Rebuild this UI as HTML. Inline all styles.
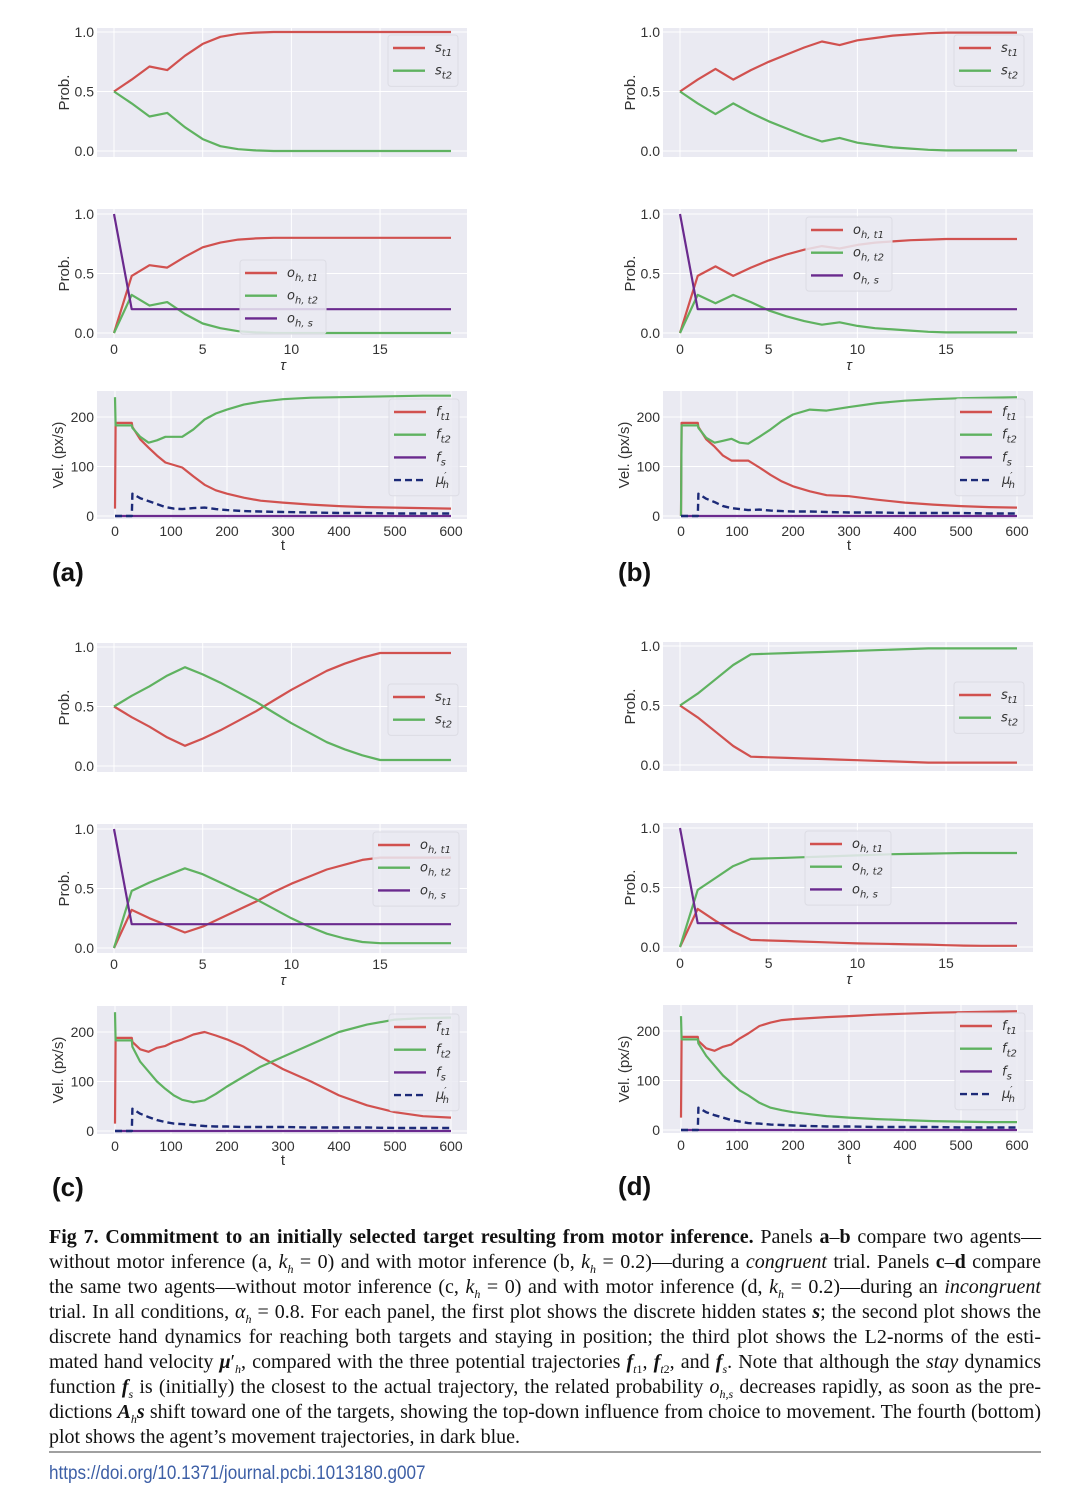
<!DOCTYPE html>
<html><head><meta charset="utf-8"><style>
html,body{margin:0;padding:0;background:#fff;width:1080px;height:1507px;overflow:hidden;position:relative}
.cap{position:absolute;left:49px;width:992px;font-family:"Liberation Serif",serif;font-size:20px;line-height:25px;color:#111;text-align:justify;text-align-last:justify;white-space:nowrap}
.cap.last{text-align-last:left}
</style></head><body>
<svg id="fig" width="1080" height="1507" viewBox="0 0 1080 1507" style="position:absolute;left:0;top:0" font-family="Liberation Sans, DejaVu Sans, sans-serif"></svg>

<div class="cap" style="top:1225px"><b>Fig 7. Commitment to an initially selected target resulting from motor inference.</b> Panels <b>a</b>–<b>b</b> compare two agents—</div>
<div class="cap" style="top:1250px">without motor inference (a, <i>k<sub style="font-size:12px">h</sub></i> = 0) and with motor inference (b, <i>k<sub style="font-size:12px">h</sub></i> = 0.2)—during a <i>congruent</i> trial. Panels <b>c</b>–<b>d</b> compare</div>
<div class="cap" style="top:1275px">the same two agents—without motor inference (c, <i>k<sub style="font-size:12px">h</sub></i> = 0) and with motor inference (d, <i>k<sub style="font-size:12px">h</sub></i> = 0.2)—during an <i>incongruent</i></div>
<div class="cap" style="top:1300px">trial. In all conditions, <i>α<sub style="font-size:12px">h</sub></i> = 0.8. For each panel, the first plot shows the discrete hidden states <b><i>s</i></b>; the second plot shows the</div>
<div class="cap" style="top:1325px">discrete hand dynamics for reaching both targets and staying in position; the third plot shows the L2-norms of the esti-</div>
<div class="cap" style="top:1350px">mated hand velocity <b><i>μ</i></b>′<sub style="font-size:12px"><i>h</i></sub>, compared with the three potential trajectories <b><i>f</i></b><sub style="font-size:12px"><i>t</i>1</sub>, <b><i>f</i></b><sub style="font-size:12px"><i>t</i>2</sub>, and <b><i>f</i></b><sub style="font-size:12px"><i>s</i></sub>. Note that although the <i>stay</i> dynamics</div>
<div class="cap" style="top:1375px">function <b><i>f</i></b><sub style="font-size:12px"><i>s</i></sub> is (initially) the closest to the actual trajectory, the related probability <i>o</i><sub style="font-size:12px"><i>h,s</i></sub> decreases rapidly, as soon as the pre-</div>
<div class="cap" style="top:1400px">dictions <b><i>A</i></b><sub style="font-size:12px"><i>h</i></sub><b><i>s</i></b> shift toward one of the targets, showing the top-down influence from choice to movement. The fourth (bottom)</div>
<div class="cap last" style="top:1425px">plot shows the agent’s movement trajectories, in dark blue.</div>
<div style="position:absolute;left:49px;top:1451px;width:992px;height:2px;background:#a0a0a0"></div>
<div style="position:absolute;left:49px;top:1463px;font-family:'Liberation Sans',sans-serif;font-size:19px;color:#3d5fa6;transform:scaleX(0.9);transform-origin:left">https://doi.org/10.1371/journal.pcbi.1013180.g007</div>

<script>
// ---- data ----
const tau = [0,1,2,3,4,5,6,7,8,9,10,11,12,13,14,15,16,17,18,19];
const tauTicks = [0,5,10,15];
const probTicks = [0,0.5,1];
const probTickLabels = ["0.0","0.5","1.0"];
const tVel = [0,1,30,31,45,60,75,90,105,120,140,160,180,200,230,260,300,350,400,450,500,550,600];
const tTicks = [0,100,200,300,400,500,600];
const velTicks = [0,100,200];

const aSt1 = [0.5,0.6,0.71,0.68,0.8,0.9,0.96,0.985,0.995,1,1,1,1,1,1,1,1,1,1,1];
const aSt2 = [0.5,0.4,0.29,0.32,0.2,0.1,0.04,0.015,0.005,0,0,0,0,0,0,0,0,0,0,0];
const aOt1 = [0,0.48,0.57,0.55,0.64,0.72,0.76,0.785,0.795,0.8,0.8,0.8,0.8,0.8,0.8,0.8,0.8,0.8,0.8,0.8];
const aOt2 = [0,0.32,0.23,0.26,0.16,0.08,0.04,0.015,0.005,0,0,0,0,0,0,0,0,0,0,0];
const aOs  = [1,0.2,0.2,0.2,0.2,0.2,0.2,0.2,0.2,0.2,0.2,0.2,0.2,0.2,0.2,0.2,0.2,0.2,0.2,0.2];
const aFt1 = [15,188,188,180,155,138,122,108,103,98,80,63,52,45,37,31,27,23,20,18,17,16,15];
const aFt2 = [240,183,183,178,160,148,153,160,160,160,175,195,207,215,225,231,236,239,240,241,242,243,243];
const aMu  = [0,0,0,45,36,30,24,18,15,14,16,17,14,12,10,9,8,7,6,6,5,5,5];

const bSt1 = [0.5,0.6,0.69,0.6,0.68,0.75,0.81,0.87,0.92,0.89,0.93,0.95,0.97,0.98,0.99,0.995,0.995,0.995,0.995,0.995];
const bSt2 = [0.5,0.4,0.31,0.4,0.32,0.25,0.19,0.13,0.08,0.11,0.07,0.05,0.03,0.02,0.01,0.005,0.005,0.005,0.005,0.005];
const bOt1 = [0,0.48,0.56,0.48,0.55,0.61,0.66,0.7,0.73,0.71,0.74,0.76,0.77,0.78,0.785,0.79,0.79,0.79,0.79,0.79];
const bOt2 = [0,0.32,0.25,0.32,0.26,0.19,0.14,0.1,0.07,0.09,0.06,0.04,0.03,0.02,0.01,0.005,0.005,0.005,0.005,0.005];
const bOs  = [1,0.2,0.2,0.2,0.2,0.2,0.2,0.2,0.2,0.2,0.2,0.2,0.2,0.2,0.2,0.2,0.2,0.2,0.2,0.2];
const bFt1 = [0,188,188,180,155,140,122,112,112,112,98,83,70,60,50,42,40,33,27,23,20,18,17];
const bFt2 = [0,183,183,178,158,148,152,156,148,146,160,175,192,205,215,213,220,228,233,236,238,239,240];
const bMu  = [0,0,0,45,35,28,20,16,14,12,13,11,10,9,9,8,7,7,6,6,6,5,5];

const cSt1 = [0.5,0.41,0.33,0.24,0.17,0.23,0.3,0.38,0.46,0.55,0.64,0.72,0.8,0.86,0.91,0.95,0.95,0.95,0.95,0.95];
const cSt2 = [0.5,0.59,0.67,0.76,0.83,0.77,0.7,0.62,0.54,0.45,0.36,0.28,0.2,0.14,0.09,0.05,0.05,0.05,0.05,0.05];
const cOt1 = [0,0.32,0.25,0.19,0.13,0.18,0.25,0.32,0.39,0.47,0.54,0.6,0.66,0.7,0.74,0.76,0.76,0.76,0.76,0.76];
const cOt2 = [0,0.48,0.55,0.61,0.67,0.62,0.55,0.48,0.41,0.33,0.25,0.18,0.12,0.08,0.05,0.04,0.04,0.04,0.04,0.04];
const cOs  = [1,0.2,0.2,0.2,0.2,0.2,0.2,0.2,0.2,0.2,0.2,0.2,0.2,0.2,0.2,0.2,0.2,0.2,0.2,0.2];
const cFt1 = [15,188,188,180,165,160,168,172,180,185,195,200,193,185,170,150,125,100,72,52,38,30,27];
const cFt2 = [240,183,183,170,140,120,100,85,72,63,58,62,75,90,110,130,150,175,200,215,225,228,229];
const cMu  = [0,0,0,45,35,28,22,18,15,14,12,10,9,9,8,8,8,7,7,7,6,6,6];

const dSt1 = [0.5,0.4,0.28,0.16,0.07,0.065,0.06,0.055,0.05,0.045,0.04,0.035,0.03,0.025,0.02,0.02,0.02,0.02,0.02,0.02];
const dSt2 = [0.5,0.6,0.72,0.84,0.93,0.935,0.94,0.945,0.95,0.955,0.96,0.965,0.97,0.975,0.98,0.98,0.98,0.98,0.98,0.98];
const dOt1 = [0,0.32,0.22,0.13,0.06,0.055,0.05,0.045,0.04,0.035,0.03,0.028,0.025,0.022,0.02,0.015,0.012,0.01,0.01,0.01];
const dOt2 = [0,0.48,0.58,0.68,0.74,0.745,0.75,0.755,0.76,0.765,0.77,0.775,0.78,0.782,0.785,0.787,0.79,0.79,0.79,0.79];
const dOs  = [1,0.2,0.2,0.2,0.2,0.2,0.2,0.2,0.2,0.2,0.2,0.2,0.2,0.2,0.2,0.2,0.2,0.2,0.2,0.2];
const dFt1 = [25,188,188,180,165,160,168,173,185,195,210,217,222,224,226,228,230,233,235,237,238,239,240];
const dFt2 = [230,183,183,175,150,130,110,95,80,70,55,45,40,36,32,28,25,22,20,18,17,16,16];
const dMu  = [0,0,0,45,36,30,25,20,17,14,13,11,10,9,8,7,7,6,6,6,5,5,5];

// ---- drawing ----
const RED="#d1514f", GREEN="#5fb260", PURPLE="#6a2a8e", NAVY="#1c2a78";
const svg=document.getElementById('fig');
const NS="http://www.w3.org/2000/svg";
function mk(tag,attrs,parent){const e=document.createElementNS(NS,tag);for(const k in attrs)e.setAttribute(k,attrs[k]);(parent||svg).appendChild(e);return e;}

function tauX(ox,v){return ox+114+v*(337/19);}
function tX(ox,v){return ox+115+v*(336/600);}

function drawSeries(g,xs,ys,xf,yf,color,name,dashed){
  const pts=xs.map((x,i)=>xf(x).toFixed(1)+","+yf(ys[i]).toFixed(1)).join(" ");
  const p=mk('polyline',{points:pts,fill:"none",stroke:color,"stroke-width":2.2,"stroke-linejoin":"round"},g);
  if(dashed){p.setAttribute('stroke-dasharray','7,4');p.setAttribute('stroke-width','2.4');}
  
  
}

function label(g,x,y,main,sub,sup){
  const t=mk('text',{x:x,y:y,"font-size":13,"font-style":"italic",fill:"#333","font-family":"DejaVu Sans, Liberation Sans, sans-serif"},g);
  t.appendChild(document.createTextNode(main));
  if(sup){const s=mk('tspan',{"font-size":10,dy:-5},t);s.textContent=sup;const s2=mk('tspan',{"font-size":10,dx:-4,dy:9},t);s2.textContent=sub;}
  else{const s=mk('tspan',{"font-size":10,dy:4},t);s.textContent=sub;}
  
  
}

function legend(g,x,y,w,rows){
  const h=rows.length*22.7+6;
  const box=mk('rect',{x:x,y:y,width:w,height:h,rx:3,fill:"#eaeaf2","fill-opacity":0.85,stroke:"#dcdce4","stroke-width":1},g);
  
  
  rows.forEach((r,i)=>{
    const cy=y+13+i*22.7;
    const ln=mk('line',{x1:x+5,x2:x+37,y1:cy,y2:cy,stroke:r.c,"stroke-width":2.4},g);
    if(r.dash)ln.setAttribute('stroke-dasharray','7,4');
    
    
    label(g,x+47,cy+4,r.m,r.s,r.sup);
  });
}

function axesBg(g,ox,top,bot){
  const r=mk('rect',{x:ox+97,y:top,width:370,height:bot-top,fill:"#eaeaf2"},g);
  
  
}
function ytxt(g,x,y,s){const t=mk('text',{x:x,y:y+5,"text-anchor":"end","font-size":14,fill:"#333"},g);t.textContent=s;}
function xtxt(g,x,y,s){const t=mk('text',{x:x,y:y,"text-anchor":"middle","font-size":14,fill:"#333"},g);t.textContent=s;}
function ylab(g,x,y,s){const t=mk('text',{x:x,y:y,"text-anchor":"middle","font-size":15,fill:"#333",transform:`rotate(-90 ${x} ${y})`},g);t.textContent=s;}

function probPlot(ox,oy,top,bot,y1,y0,series,leg,xticks){
  const g=mk('g',{});
  
  
  top+=oy;bot+=oy;y1+=oy;y0+=oy;
  axesBg(g,ox,top,bot);
  const yf=v=>y0-(y0-y1)*v, xf=v=>tauX(ox,v);
  probTicks.forEach((v,i)=>{mk('line',{x1:ox+97,x2:ox+467,y1:yf(v),y2:yf(v),stroke:"#fff","stroke-width":1},g);ytxt(g,ox+94,yf(v),probTickLabels[i]);});
  tauTicks.forEach(v=>{mk('line',{x1:xf(v),x2:xf(v),y1:top,y2:bot,stroke:"#fff","stroke-width":1},g);if(xticks)xtxt(g,xf(v),bot+16,String(v));});
  if(xticks){const t=mk('text',{x:ox+283,y:bot+32,"text-anchor":"middle","font-size":15,"font-style":"italic",fill:"#333"},g);t.textContent="τ";}
  ylab(g,ox+69,(top+bot)/2,"Prob.");
  series.forEach(s=>drawSeries(g,tau,s.d,xf,yf,s.c,s.n,false));
  legend(g,ox+leg[0],oy+leg[1],leg[2],leg[3]);
}

function velPlot(ox,oy,ft1,ft2,mu){
  const g=mk('g',{});
  
  
  const top=391+oy,bot=519+oy;
  axesBg(g,ox,top,bot);
  const yf=v=>oy+516-v*(99/200), xf=v=>tX(ox,v);
  velTicks.forEach(v=>{mk('line',{x1:ox+97,x2:ox+467,y1:yf(v),y2:yf(v),stroke:"#fff","stroke-width":1},g);ytxt(g,ox+94,yf(v),String(v));});
  tTicks.forEach(v=>{mk('line',{x1:xf(v),x2:xf(v),y1:top,y2:bot,stroke:"#fff","stroke-width":1},g);xtxt(g,xf(v),bot+17,String(v));});
  const t=mk('text',{x:ox+283,y:bot+31,"text-anchor":"middle","font-size":15,fill:"#333"},g);t.textContent="t";
  
  
  ylab(g,ox+63,(top+bot)/2,"Vel. (px/s)");
  const zeros=tVel.map(()=>0);
  drawSeries(g,tVel,ft1,xf,yf,RED,"f-t1-line",false);
  drawSeries(g,tVel,ft2,xf,yf,GREEN,"f-t2-line",false);
  drawSeries(g,tVel,zeros,xf,yf,PURPLE,"f-s-line",false);
  drawSeries(g,tVel,mu,xf,yf,NAVY,"mu-h-line",true);
  legend(g,ox+389,oy+399,70,[{c:RED,m:"f",s:"t1"},{c:GREEN,m:"f",s:"t2"},{c:PURPLE,m:"f",s:"s"},{c:NAVY,m:"μ",s:"h",sup:"′",dash:true}]);
}

const sLeg=[{c:RED,m:"s",s:"t1"},{c:GREEN,m:"s",s:"t2"}];
const oLeg=[{c:RED,m:"o",s:"h, t1"},{c:GREEN,m:"o",s:"h, t2"},{c:PURPLE,m:"o",s:"h, s"}];

function panel(ox,oy,st1,st2,ot1,ot2,os,ft1,ft2,mu,l1y,l2,lbl){
  probPlot(ox,oy,28,157,32,151,[{d:st1,c:RED,n:"s-t1-line"},{d:st2,c:GREEN,n:"s-t2-line"}],[388,l1y,70,sLeg],false);
  probPlot(ox,oy,209,338,214,333,[{d:ot1,c:RED,n:"o-t1-line"},{d:ot2,c:GREEN,n:"o-t2-line"},{d:os,c:PURPLE,n:"o-s-line"}],[l2[0],l2[1],86,oLeg],true);
  velPlot(ox,oy,ft1,ft2,mu);
  const t=mk('text',{x:ox+52,y:oy+581,"font-size":26,"font-weight":"bold",fill:"#111"});
  t.textContent=lbl;
  
  
}

panel(0,0,aSt1,aSt2,aOt1,aOt2,aOs,aFt1,aFt2,aMu,35,[240,260],"(a)");
panel(566,0,bSt1,bSt2,bOt1,bOt2,bOs,bFt1,bFt2,bMu,35,[240,217],"(b)");
panel(0,615,cSt1,cSt2,cOt1,cOt2,cOs,cFt1,cFt2,cMu,69,[373,217],"(c)");
panel(566,614,dSt1,dSt2,dOt1,dOt2,dOs,dFt1,dFt2,dMu,68,[239,217],"(d)");
</script>
</body></html>
